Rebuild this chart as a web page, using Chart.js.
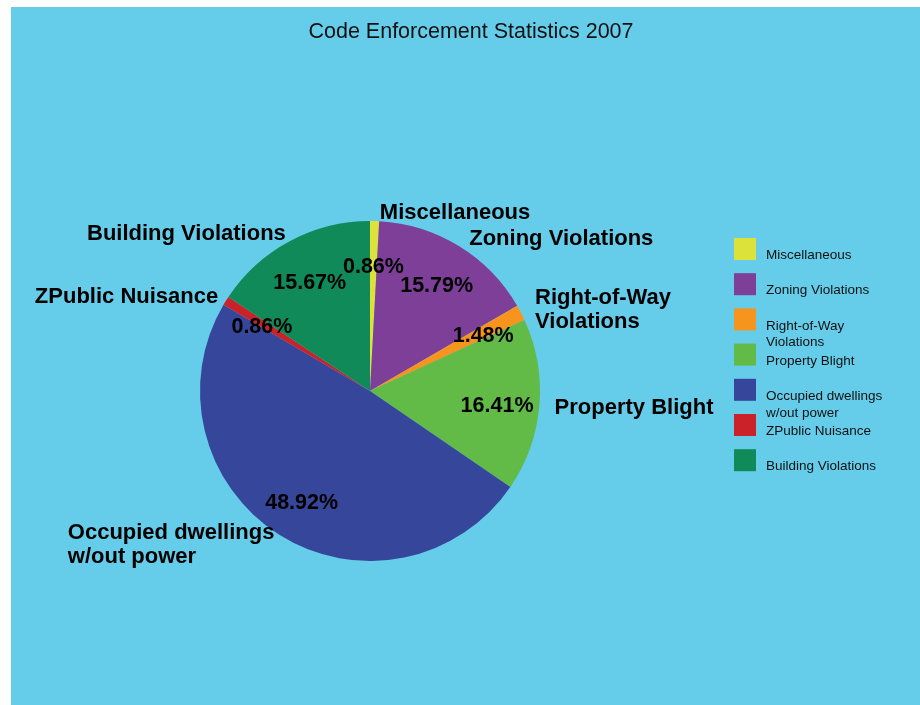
<!DOCTYPE html>
<html>
<head>
<meta charset="utf-8">
<title>Code Enforcement Statistics 2007</title>
<script src="https://cdn.jsdelivr.net/npm/chart.js@4.4.1/dist/chart.umd.min.js"></script>
<style>
    html, body { margin: 0; padding: 0; background: #ffffff; }
    #chartBox { width: 920px; height: 705px; }
</style>
</head>
<body>
<div id="chartBox"><canvas id="codeChart" width="920" height="705"></canvas></div>
<script>
// Chart data
const chartTitle = 'Code Enforcement Statistics 2007';
const categories = [
    'Miscellaneous',
    'Zoning Violations',
    ['Right-of-Way', 'Violations'],
    'Property Blight',
    ['Occupied dwellings', 'w/out power'],
    'ZPublic Nuisance',
    'Building Violations'
];
const percentages = [0.86, 15.79, 1.48, 16.41, 48.92, 0.86, 15.67];
const sliceColors = ['#DDE23B', '#7D3F98', '#F7941D', '#61BB46', '#35469B', '#CB2128', '#118A5A'];

const bgColor = '#65CDEA';
const fontFamily = '"Liberation Sans", Arial, Helvetica, sans-serif';

// Light blue panel behind everything
const panelBackground = {
    id: 'panelBackground',
    beforeDraw(chart) {
        const ctx = chart.ctx;
        ctx.save();
        ctx.fillStyle = bgColor;
        ctx.fillRect(11, 7, chart.width - 11, chart.height - 7);
        ctx.restore();
    }
};

// Title drawn centred over the panel
const panelTitle = {
    id: 'panelTitle',
    afterDraw(chart) {
        const ctx = chart.ctx;
        ctx.save();
        ctx.font = '21.5px ' + fontFamily;
        ctx.fillStyle = '#111111';
        ctx.textAlign = 'center';
        ctx.textBaseline = 'middle';
        ctx.fillText(chartTitle, 471, 32);
        ctx.restore();
    }
};

// Percent labels inside the slices, category names outside
const sliceLabels = {
    id: 'sliceLabels',
    afterDatasetsDraw(chart) {
        const ctx = chart.ctx;
        const meta = chart.getDatasetMeta(0);
        ctx.save();
        ctx.fillStyle = '#000000';
        ctx.textBaseline = 'middle';
        meta.data.forEach((arc, i) => {
            const p = arc.getProps(['x', 'y', 'startAngle', 'endAngle', 'outerRadius'], true);
            const mid = (p.startAngle + p.endAngle) / 2;
            const cos = Math.cos(mid);
            const sin = Math.sin(mid);

            // percentage
            ctx.font = 'bold 21.5px ' + fontFamily;
            ctx.textAlign = 'center';
            const r1 = p.outerRadius * 0.75;
            ctx.fillText(percentages[i].toFixed(2) + '%', p.x + cos * r1, p.y + sin * r1 + 4);

            // category name, lines left aligned inside the block
            ctx.font = 'bold 22px ' + fontFamily;
            ctx.textAlign = 'left';
            const r2 = p.outerRadius * 1.06;
            const lines = Array.isArray(categories[i]) ? categories[i] : [categories[i]];
            const blockW = Math.max(...lines.map(l => ctx.measureText(l).width));
            const lx = cos >= 0 ? p.x + cos * r2 + 5 : p.x + cos * r2 + 1 - blockW;
            const ly = p.y + sin * r2 + 2;
            const lineH = 24;
            const top = ly - (lines.length - 1) * lineH / 2;
            lines.forEach((line, j) => ctx.fillText(line, lx, top + j * lineH));
        });
        ctx.restore();
    }
};

// Legend on the right
const sideLegend = {
    id: 'sideLegend',
    afterDraw(chart) {
        const ctx = chart.ctx;
        const ds = chart.data.datasets[0];
        ctx.save();
        ctx.font = '13.5px ' + fontFamily;
        ctx.textBaseline = 'middle';
        ctx.textAlign = 'left';
        chart.data.labels.forEach((label, i) => {
            const top = 238 + i * 35.2;
            ctx.fillStyle = ds.backgroundColor[i];
            ctx.fillRect(734, top, 22, 22);
            ctx.fillStyle = '#111111';
            const lines = Array.isArray(label) ? label : [label];
            lines.forEach((line, j) => ctx.fillText(line, 766, top + 17.5 + j * 16.5));
        });
        ctx.restore();
    }
};

const ctx = document.getElementById('codeChart').getContext('2d');
new Chart(ctx, {
    type: 'pie',
    data: {
        labels: categories,
        datasets: [{
            data: percentages,
            backgroundColor: sliceColors,
            borderWidth: 0
        }]
    },
    options: {
        responsive: false,
        devicePixelRatio: 1,
        animation: false,
        layout: {
            padding: { left: 200, right: 380, top: 221, bottom: 144 }
        },
        plugins: {
            legend: { display: false },
            title: { display: false },
            tooltip: { enabled: false }
        }
    },
    plugins: [panelBackground, sliceLabels, sideLegend, panelTitle]
});
</script>
</body>
</html>
